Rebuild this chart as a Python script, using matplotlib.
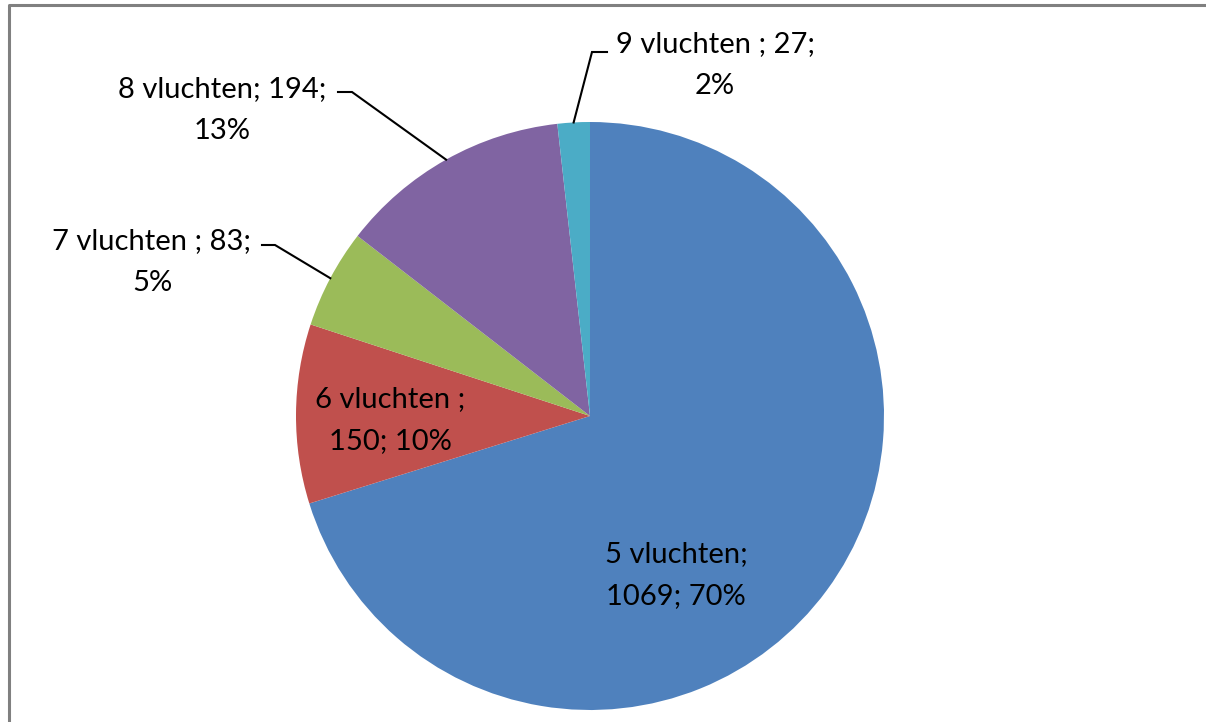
import matplotlib
matplotlib.use('Agg')
import matplotlib.pyplot as plt
import numpy as np

W, H = 1206, 722

categories = ["5 vluchten", "6 vluchten ", "7 vluchten ", "8 vluchten", "9 vluchten "]
values = [1069, 150, 83, 194, 27]
colors = ["#4F81BD", "#C0504D", "#9BBB59", "#8064A2", "#4BACC6"]
# which ';' the label wraps after (1 = first, 2 = second)
wrap_after = [1, 1, 2, 2, 2]

# label layout in pixel coords (y down): text centre, elbow start, elbow end
label_pos = [(676, 575), (390, 420), (152, 262), (222, 110), (715, 65)]
leaders = [None, None, ((262, 245), (275, 245)), ((338, 92), (352, 92)), ((607, 52), (592, 52))]

plt.rcParams['font.family'] = ['Lato', 'DejaVu Sans']
fig = plt.figure(figsize=(W / 100, H / 100), dpi=100)
ax = fig.add_axes([0, 0, 1, 1])

cx, cy, r = 590, 416, 294
wedges, _ = ax.pie(values, colors=colors, startangle=90, counterclock=False,
                   center=(cx, H - cy), radius=r, wedgeprops=dict(linewidth=0))
ax.set_xlim(0, W)
ax.set_ylim(0, H)
ax.set_aspect('equal')
ax.axis('off')

total = sum(values)
for i, (cat, v) in enumerate(zip(categories, values)):
    pct = round(100 * v / total)
    parts = [cat, f" {v}", f" {pct}%"]
    if wrap_after[i] == 1:
        txt = parts[0] + ";\n" + parts[1].strip() + ";" + parts[2]
    else:
        txt = parts[0] + ";" + parts[1] + ";\n" + parts[2].strip()
    tx, ty = label_pos[i]
    ax.text(tx, H - ty, txt, ha='center', va='center', fontsize=21,
            linespacing=1.72, color='black')
    if leaders[i] is not None:
        w = wedges[i]
        mid = np.deg2rad((w.theta1 + w.theta2) / 2)
        ax_, ay_ = cx + r * np.cos(mid), (H - cy) + r * np.sin(mid)
        (e1x, e1y), (e2x, e2y) = leaders[i]
        ax.plot([e1x, e2x, ax_], [H - e1y, H - e2y, ay_], color='black', lw=1.5,
                solid_joinstyle='miter')

# outer chart frame (only left/top edges visible)
ax.plot([9, 9, W + 5], [-5, H - 5, H - 5], color='#808080', lw=2.2, clip_on=False)

fig.savefig('out.png', dpi=100)
